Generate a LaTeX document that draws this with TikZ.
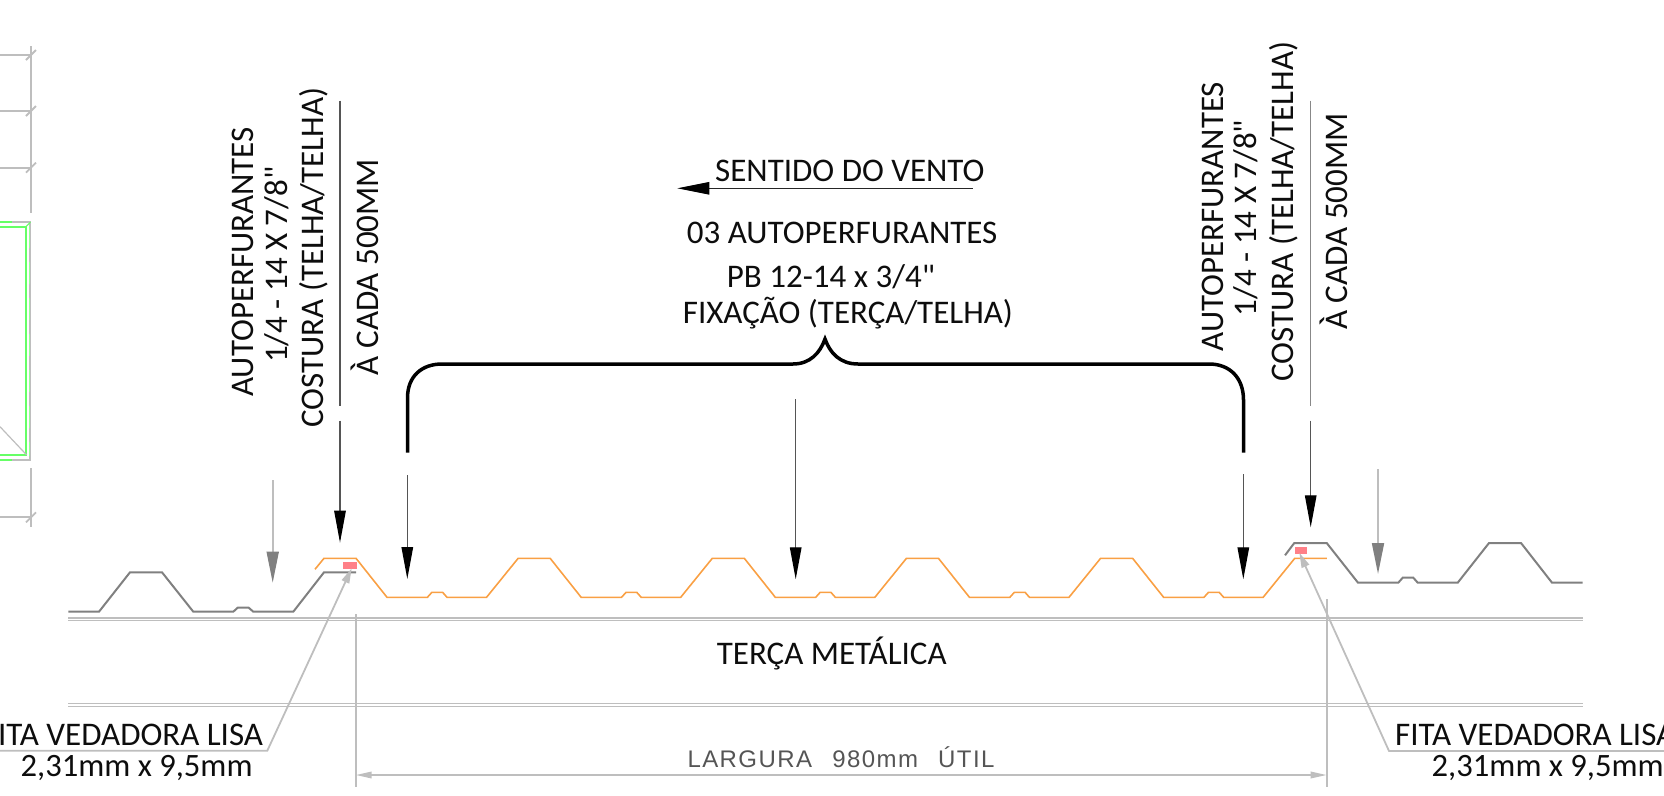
\documentclass[tikz,border=0pt]{standalone}
\usepackage{fontspec}
\newfontfamily\carl{Carlito}
\newfontfamily\isofont[LetterSpace=6]{Liberation Sans}
\usetikzlibrary{arrows.meta}
\definecolor{grid}{HTML}{BEBEBE}
\definecolor{lime}{HTML}{66FF66}
\definecolor{sheet}{HTML}{F9A044}
\definecolor{oldsheet}{HTML}{808080}
\definecolor{tape}{HTML}{FF8088}
\definecolor{dark}{HTML}{555555}
\tikzset{
  lbl/.style={inner sep=0pt,font=\carl\fontsize{33}{33}\selectfont,text=black!95},
  sizelbl/.style={inner sep=0pt,font=\carl\fontsize{32.6}{33}\selectfont,text=black!95},
  vlbl/.style={lbl,rotate=90,anchor=base},
  blackhead/.style={-{Triangle[length=32pt,width=11.5pt,color=black]},draw=dark,line width=1.3pt},
  grayhead/.style={-{Triangle[length=31pt,width=12pt,color=oldsheet]},draw=grid,line width=1.8pt},
  leader/.style={draw=grid,line width=1.8pt,-{Triangle[length=15pt,width=8pt]}},
  dimline/.style={draw=grid,line width=1.8pt},
  gridline/.style={draw=grid,line width=1.8pt},
  purlin/.style={draw=grid,line width=1.4pt},
}
\begin{document}
\begin{tikzpicture}[x=1pt,y=-1pt]
\useasboundingbox (0,0) rectangle (1664,795);
% grid fragment at left
\draw[gridline] (30.7,46) -- (30.7,213) (30.7,468) -- (30.7,527);
\foreach \yy in {55,111,167.7,517.3}{
  \draw[gridline] (0,\yy) -- (30.7,\yy);
  \draw[gridline] (26,\yy+5) -- (36,\yy-5);
}
\draw[line width=2.4pt,draw=grid] (12,222) -- (29.7,222) -- (29.7,460) -- (12,460);
\draw[line width=1.5pt,draw=lime!70!white,dash pattern=on 22pt off 14pt] (29.7,226) -- (29.7,456);
\draw[line width=1.8pt,draw=lime] (0,222) -- (12,222) (0,460) -- (12,460);
\draw[line width=1.6pt,draw=lime] (0,226.7) -- (26,226.7) -- (26,455) -- (0,455);
\draw[line width=1pt,draw=lime] (26,226.7) -- (30.5,222);
\draw[line width=1.2pt,draw=grid] (0,426.7) -- (26.7,455);
% purlin
\foreach \yy in {618,620.6,703.7,706.3}{
  \draw[purlin] (68,\yy) -- (1582.7,\yy);
}
\node[lbl,anchor=base west] (purlinlabel) at (716.7,664) {TERÇA METÁLICA};
% neighbouring sheets
\draw[oldsheet,line width=2pt] (68.3,611.7) -- (99,611.7) -- (130,572.3) -- (162,572.3) -- (193.3,611.7) -- (233.3,611.7) -- (237.7,607.7) -- (248.7,607.7) -- (253.3,611.7) -- (293.3,611.7) -- (324,572.3) -- (356,572.3);
\draw[oldsheet,line width=2pt] (1285,555.3) -- (1294.3,543) -- (1326.7,543) -- (1358,582.7) -- (1398.3,582.7) -- (1402.7,577.7) -- (1413.3,577.7) -- (1417.7,582.7) -- (1457.7,582.7) -- (1489,543) -- (1521,543) -- (1552,582.7) -- (1582.7,582.7);
% main sheet
\draw[sheet,line width=1.6pt] (315,569.3) -- (324,558.3) -- (356,558.3)
 \foreach \k [evaluate=\k as \p using 292.4+194.15*\k] in {0,...,4}{
   -- (\p+94.6,597.3) -- (\p+135,597.3) -- (\p+139.5,592.3) -- (\p+150.2,592.3) -- (\p+154.6,597.3) -- (\p+194.15,597.3) -- (\p+225.75,558.3) -- (\p+257.75,558.3)
 };
% tapes
\fill[tape] (343.3,562) rectangle (356.7,569.3);
\fill[tape] (1294.7,547) rectangle (1307,554);
% seam arrows
\coordinate (lsA) at (340,100.7); \coordinate (lsB) at (340,406);
\coordinate (lsC) at (340,420.7); \coordinate (lsT) at (340,542.7);
\draw[draw=dark,line width=1.3pt] (lsA) -- (lsB);
\draw[blackhead] (lsC) -- (lsT);
\coordinate (rsA) at (1310.7,100.7); \coordinate (rsB) at (1310.7,406);
\coordinate (rsC) at (1310.7,420.7); \coordinate (rsT) at (1310.7,527.3);
\draw[draw=dark!70!white,line width=1.5pt] (rsA) -- (rsB);
\draw[blackhead] (rsC) -- (rsT);
% neighbouring screw arrows
\coordinate (lgA) at (272.7,480); \coordinate (lgT) at (272.7,582.7);
\draw[grayhead] (lgA) -- (lgT);
\coordinate (rgA) at (1378,469); \coordinate (rgT) at (1378,574);
\draw[grayhead] (rgA) -- (rgT);
% fixing arrows
\coordinate (f1A) at (407.3,475); \coordinate (f1T) at (407.3,579);
\coordinate (f2A) at (795.7,399); \coordinate (f2T) at (795.7,579.3);
\coordinate (f3A) at (1243.3,474.4); \coordinate (f3T) at (1243.3,579.3);
\draw[blackhead] (f1A) -- (f1T);
\draw[blackhead] (f2A) -- (f2T);
\draw[blackhead] (f3A) -- (f3T);
% brace
\draw[line width=3.5pt,black,line join=miter] (407.5,452.7) -- (407.5,398) .. controls (407.5,376) and (422,364) .. (442,364) -- (793,364) .. controls (810,364) and (820,353) .. (825,339) .. controls (830,353) and (840,364) .. (858,364) -- (1209,364) .. controls (1230,364) and (1243.5,378) .. (1243.5,400) -- (1243.5,452.7);
% wind arrow
\node[lbl,anchor=base west] (wind) at (715,181.7) {SENTIDO DO VENTO};
\coordinate (wA) at (972.7,188.3); \coordinate (wT) at (677.3,188.3);
\draw[draw=black!85,line width=1pt,-{Triangle[length=32pt,width=12.5pt,color=black]}] (wA) -- (wT);
% centre text
\node[lbl,anchor=base west] (fix1) at (686.7,243.3) {03 AUTOPERFURANTES};
\node[lbl,anchor=base west] (fix2) at (726.7,287) {PB 12-14 x 3/4"};
\node[lbl,anchor=base west] (fix3) at (682.7,323) {FIXAÇÃO (TERÇA/TELHA)};
% rotated text left
\node[vlbl] (la) at (253.3,262) {AUTOPERFURANTES};
\node[vlbl] (lb) at (287,264.7) {1/4 - 14 X 7/8"};
\node[vlbl] (lc) at (323.3,257.7) {COSTURA (TELHA/TELHA)};
\node[vlbl] (ld) at (378.3,267) {À CADA 500MM};
% rotated text right
\node[vlbl] (ra) at (1223.3,216.7) {AUTOPERFURANTES};
\node[vlbl] (rb) at (1256.7,218) {1/4 - 14 X 7/8"};
\node[vlbl] (rc) at (1293.3,211.7) {COSTURA (TELHA/TELHA)};
\node[vlbl] (rd) at (1347.7,221.5) {À CADA 500MM};
% dimension
\coordinate (d1a) at (355.7,614.3); \coordinate (d1b) at (355.7,786.7);
\coordinate (d2a) at (1326.7,599); \coordinate (d2b) at (1326.7,786.7);
\coordinate (dl) at (355.7,775); \coordinate (dr) at (1326.7,775);
\draw[dimline] (d1a) -- (d1b);
\draw[dimline] (d2a) -- (d2b);
\draw[dimline,{Triangle[length=16pt,width=6.5pt]}-{Triangle[length=16pt,width=6.5pt]}] (dl) -- (dr);
\node[inner sep=0pt,anchor=base west,text=dark,font=\isofont\fontsize{24}{24}\selectfont] (width) at (687.3,767.3) {LARGURA\hspace{12pt} 980mm\hspace{12pt} ÚTIL};
% leaders
\coordinate (tl) at (351.7,568.3); \coordinate (kl) at (267.3,750.7); \coordinate (el) at (0,750.7);
\draw[leader] (el) -- (kl) -- (tl);
\coordinate (tr) at (1299.3,552.7); \coordinate (kr) at (1389,751); \coordinate (er) at (1664,751);
\draw[leader] (er) -- (kr) -- (tr);
\node[lbl,anchor=base east] (tapeL1) at (263.3,745) {FITA VEDADORA LISA};
\node[sizelbl,anchor=base east] (tapeL2) at (252.7,776) {2,31mm x 9,5mm};
\node[lbl,anchor=base west] (tapeR1) at (1395,745) {FITA VEDADORA LISA};
\node[sizelbl,anchor=base west] (tapeR2) at (1431.5,776) {2,31mm x 9,5mm};
\end{tikzpicture}
\end{document}
